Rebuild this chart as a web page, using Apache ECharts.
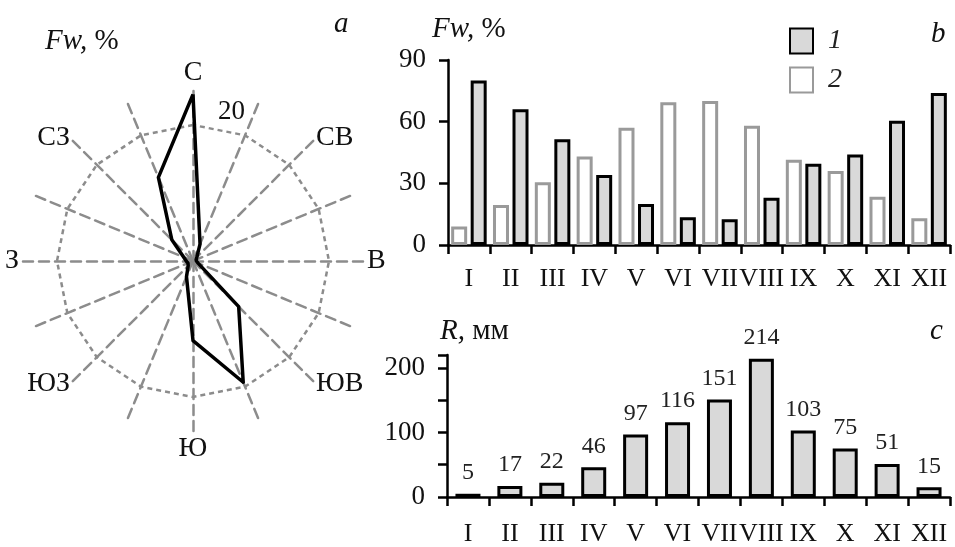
<!DOCTYPE html>
<html>
<head>
<meta charset="utf-8">
<script src="https://cdn.jsdelivr.net/npm/echarts@6/dist/echarts.min.js"></script>
<style>
    html, body { margin: 0; padding: 0; background: #fff; }
    #main { width: 955px; height: 547px; }
</style>
</head>
<body>
<div id="main"></div>
<script>
    // a: wind rose, counter-clockwise from north (radar order)
    var dirNames = ["С", "ССЗ", "СЗ", "ЗСЗ", "З", "ЗЮЗ", "ЮЗ", "ЮЮЗ", "Ю", "ЮЮВ", "ЮВ", "ВЮВ", "В", "ВСВ", "СВ", "ССВ"];
    var windFreq = [24.5, 13.3, 4.4, 1.5, 1, 0.8, 1, 2.5, 11.7, 19.3, 9.5, 0.8, 0.5, 0.5, 0.8, 2.7];
    var roseMax = 25;

    // b, c: months
    var months = ["I", "II", "III", "IV", "V", "VI", "VII", "VIII", "IX", "X", "XI", "XII"];
    var fw1 = [80, 66, 51.5, 34, 20, 13.5, 12.5, 23, 39.5, 44, 60.5, 74];
    var fw2 = [9, 19.5, 30.5, 43, 57, 69.5, 70, 58, 41.5, 36, 23.5, 13];
    var rain = [5, 17, 22, 46, 97, 116, 151, 214, 103, 75, 51, 15];

    var serif = "Liberation Serif";
    var gridLine = "#8c8c8c";

    var indicators = [];
    for (var i = 0; i < dirNames.length; i++) {
        var ind = { name: dirNames[i], min: 0, max: roseMax };
        if (i == 0) {
            ind.axisLabel = {
                show: true, margin: -52, fontSize: 27, fontFamily: serif, color: "#111",
                verticalAlign: "bottom",
                formatter: function (v) { return v == 20 ? "20" : ""; }
            };
        }
        indicators.push(ind);
    }

    function title(text, left, top) {
        return {
            text: text, left: left, top: top, padding: 0,
            textStyle: {
                fontFamily: serif, fontSize: 29, fontWeight: "normal", color: "#111",
                rich: { i: { fontFamily: serif, fontSize: 29, fontStyle: "italic", color: "#111" } }
            }
        };
    }

    var catAxis = function (gridIndex, margin) {
        return {
            type: "category", gridIndex: gridIndex, data: months,
            axisLine: { lineStyle: { color: "#000", width: 2.5 } },
            axisTick: { show: true, length: 9, lineStyle: { color: "#000", width: 2.5 } },
            axisLabel: { interval: 0, margin: margin, fontFamily: serif, fontSize: 26, color: "#111" }
        };
    };

    var option = {
        animation: false,
        backgroundColor: "#fff",
        textStyle: { fontFamily: serif },
        title: [
            title("{i|Fw,} %", 45, 27),
            title("{i|a}", 334, 10),
            title("{i|Fw,} %", 432, 15),
            title("{i|b}", 931, 20),
            title("{i|R,} мм", 440, 317),
            title("{i|c}", 930, 317)
        ],
        legend: {
            data: ["1", "2"], orient: "vertical", left: 789, top: 27, padding: 0,
            icon: "rect", itemWidth: 23, itemHeight: 25, itemGap: 11,
            textStyle: { fontFamily: serif, fontSize: 28, fontStyle: "italic", color: "#222", padding: [0, 0, 0, 10] }
        },
        radar: {
            center: [193, 261],
            radius: 170,
            shape: "polygon",
            splitNumber: 5,
            indicator: indicators,
            nameGap: 4,
            axisName: {
                color: "#111", fontFamily: serif, fontSize: 28,
                formatter: function (name) { return name.length < 3 ? name : ""; }
            },
            axisLine: { lineStyle: { color: gridLine, width: 2.5, type: [10, 6] } },
            axisTick: { show: false },
            splitArea: { show: false },
            splitLine: {
                lineStyle: {
                    color: ["transparent", "transparent", "transparent", "transparent", gridLine, "transparent"],
                    width: 2.5, type: [5, 4]
                }
            }
        },
        grid: [
            { left: 448, top: 60, width: 502, height: 185 },
            { left: 447, top: 355, width: 503, height: 148 }
        ],
        xAxis: [catAxis(0, 21), catAxis(1, 24)],
        yAxis: [
            {
                type: "value", gridIndex: 0, min: 0, max: 90, interval: 30,
                splitLine: { show: false },
                axisLine: { show: true, lineStyle: { color: "#000", width: 2.5 } },
                axisTick: { show: true, length: 9, lineStyle: { color: "#000", width: 2.5 } },
                axisLabel: { margin: 22, fontFamily: serif, fontSize: 27, color: "#111" }
            },
            {
                type: "value", gridIndex: 1, min: 0, max: 220, interval: 50,
                splitLine: { show: false },
                axisLine: { show: true, lineStyle: { color: "#000", width: 2.5 } },
                axisTick: { show: true, length: 9, lineStyle: { color: "#000", width: 2.5 } },
                axisLabel: {
                    margin: 22, fontFamily: serif, fontSize: 27, color: "#111",
                    formatter: function (v) { return v % 100 == 0 ? v : ""; }
                }
            }
        ],
        series: [
            {
                name: "rose", type: "radar", symbol: "none",
                lineStyle: { color: "#000", width: 3.5 },
                data: [{ value: windFreq, name: "rose" }]
            },
            {
                name: "2", type: "bar", xAxisIndex: 0, yAxisIndex: 0, data: fw2,
                barWidth: 16, barGap: "22%",
                itemStyle: { color: "#fff", borderColor: "#9a9a9a", borderWidth: 3 }
            },
            {
                name: "1", type: "bar", xAxisIndex: 0, yAxisIndex: 0, data: fw1,
                barWidth: 16, barGap: "22%",
                itemStyle: { color: "#d9d9d9", borderColor: "#000", borderWidth: 3 }
            },
            {
                name: "R", type: "bar", xAxisIndex: 1, yAxisIndex: 1, data: rain,
                barWidth: 25,
                itemStyle: { color: "#d9d9d9", borderColor: "#000", borderWidth: 3 },
                label: { show: true, position: "top", distance: 9, fontFamily: serif, fontSize: 24, color: "#222" }
            }
        ]
    };

    var chart = echarts.init(document.getElementById("main"));
    chart.setOption(option);
</script>
</body>
</html>
